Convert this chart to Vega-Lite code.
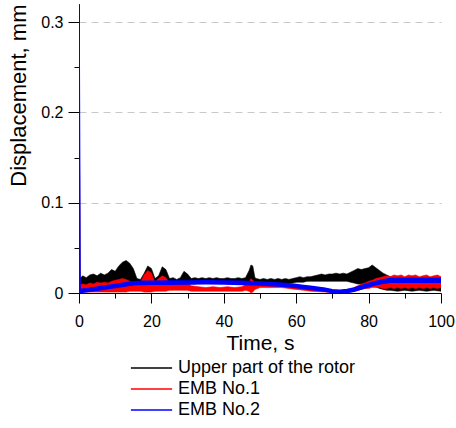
{
  "$schema": "https://vega.github.io/schema/vega-lite/v6.json",
  "width": 362,
  "height": 289,
  "autosize": "none",
  "padding": {"left": 79, "top": 4, "right": 15, "bottom": 135},
  "background": "white",
  "config": {
    "font": "Liberation Sans",
    "view": {"stroke": null},
    "axis": {"labelFont": "Liberation Sans", "titleFont": "Liberation Sans", "labelColor": "black", "titleColor": "black", "titleFontWeight": "normal", "domainColor": "black", "tickColor": "black"}
  },
  "data": {"values": [
    {"t": 0, "s": "Upper part of the rotor", "lo": 0, "hi": 0.25},
    {"t": 0.3, "s": "Upper part of the rotor", "lo": 0.005, "hi": 0.016},
    {"t": 1, "s": "Upper part of the rotor", "lo": 0.005, "hi": 0.019},
    {"t": 2, "s": "Upper part of the rotor", "lo": 0.005, "hi": 0.017},
    {"t": 3, "s": "Upper part of the rotor", "lo": 0.005, "hi": 0.020},
    {"t": 4, "s": "Upper part of the rotor", "lo": 0.005, "hi": 0.021},
    {"t": 5, "s": "Upper part of the rotor", "lo": 0.005, "hi": 0.019},
    {"t": 6, "s": "Upper part of the rotor", "lo": 0.005, "hi": 0.022},
    {"t": 7, "s": "Upper part of the rotor", "lo": 0.005, "hi": 0.020},
    {"t": 8, "s": "Upper part of the rotor", "lo": 0.005, "hi": 0.022},
    {"t": 9, "s": "Upper part of the rotor", "lo": 0.005, "hi": 0.026},
    {"t": 10, "s": "Upper part of the rotor", "lo": 0.005, "hi": 0.024},
    {"t": 11, "s": "Upper part of the rotor", "lo": 0.006, "hi": 0.030},
    {"t": 12, "s": "Upper part of the rotor", "lo": 0.006, "hi": 0.034},
    {"t": 13, "s": "Upper part of the rotor", "lo": 0.007, "hi": 0.036},
    {"t": 14, "s": "Upper part of the rotor", "lo": 0.007, "hi": 0.033},
    {"t": 15, "s": "Upper part of the rotor", "lo": 0.008, "hi": 0.027},
    {"t": 16, "s": "Upper part of the rotor", "lo": 0.009, "hi": 0.016},
    {"t": 17, "s": "Upper part of the rotor", "lo": 0.009, "hi": 0.015},
    {"t": 18, "s": "Upper part of the rotor", "lo": 0.009, "hi": 0.022},
    {"t": 19, "s": "Upper part of the rotor", "lo": 0.009, "hi": 0.030},
    {"t": 20, "s": "Upper part of the rotor", "lo": 0.009, "hi": 0.027},
    {"t": 21, "s": "Upper part of the rotor", "lo": 0.009, "hi": 0.016},
    {"t": 22, "s": "Upper part of the rotor", "lo": 0.009, "hi": 0.019},
    {"t": 23, "s": "Upper part of the rotor", "lo": 0.009, "hi": 0.029},
    {"t": 24, "s": "Upper part of the rotor", "lo": 0.009, "hi": 0.026},
    {"t": 25, "s": "Upper part of the rotor", "lo": 0.009, "hi": 0.016},
    {"t": 26, "s": "Upper part of the rotor", "lo": 0.009, "hi": 0.017},
    {"t": 27, "s": "Upper part of the rotor", "lo": 0.009, "hi": 0.015},
    {"t": 28, "s": "Upper part of the rotor", "lo": 0.009, "hi": 0.017},
    {"t": 29, "s": "Upper part of the rotor", "lo": 0.010, "hi": 0.024},
    {"t": 30, "s": "Upper part of the rotor", "lo": 0.010, "hi": 0.021},
    {"t": 31, "s": "Upper part of the rotor", "lo": 0.010, "hi": 0.016},
    {"t": 32, "s": "Upper part of the rotor", "lo": 0.010, "hi": 0.017},
    {"t": 33, "s": "Upper part of the rotor", "lo": 0.011, "hi": 0.016},
    {"t": 34, "s": "Upper part of the rotor", "lo": 0.011, "hi": 0.017},
    {"t": 35, "s": "Upper part of the rotor", "lo": 0.011, "hi": 0.016},
    {"t": 36, "s": "Upper part of the rotor", "lo": 0.011, "hi": 0.017},
    {"t": 37, "s": "Upper part of the rotor", "lo": 0.011, "hi": 0.016},
    {"t": 38, "s": "Upper part of the rotor", "lo": 0.011, "hi": 0.017},
    {"t": 39, "s": "Upper part of the rotor", "lo": 0.011, "hi": 0.016},
    {"t": 40, "s": "Upper part of the rotor", "lo": 0.011, "hi": 0.016},
    {"t": 41, "s": "Upper part of the rotor", "lo": 0.011, "hi": 0.017},
    {"t": 42, "s": "Upper part of the rotor", "lo": 0.011, "hi": 0.016},
    {"t": 43, "s": "Upper part of the rotor", "lo": 0.011, "hi": 0.016},
    {"t": 44, "s": "Upper part of the rotor", "lo": 0.011, "hi": 0.017},
    {"t": 45, "s": "Upper part of the rotor", "lo": 0.011, "hi": 0.016},
    {"t": 46, "s": "Upper part of the rotor", "lo": 0.011, "hi": 0.017},
    {"t": 47, "s": "Upper part of the rotor", "lo": 0.009, "hi": 0.025},
    {"t": 47.5, "s": "Upper part of the rotor", "lo": 0.005, "hi": 0.031},
    {"t": 48, "s": "Upper part of the rotor", "lo": 0.004, "hi": 0.030},
    {"t": 48.6, "s": "Upper part of the rotor", "lo": 0.010, "hi": 0.017},
    {"t": 49, "s": "Upper part of the rotor", "lo": 0.011, "hi": 0.016},
    {"t": 50, "s": "Upper part of the rotor", "lo": 0.011, "hi": 0.015},
    {"t": 51, "s": "Upper part of the rotor", "lo": 0.011, "hi": 0.016},
    {"t": 52, "s": "Upper part of the rotor", "lo": 0.011, "hi": 0.015},
    {"t": 53, "s": "Upper part of the rotor", "lo": 0.011, "hi": 0.016},
    {"t": 54, "s": "Upper part of the rotor", "lo": 0.011, "hi": 0.015},
    {"t": 55, "s": "Upper part of the rotor", "lo": 0.011, "hi": 0.016},
    {"t": 56, "s": "Upper part of the rotor", "lo": 0.011, "hi": 0.015},
    {"t": 57, "s": "Upper part of the rotor", "lo": 0.011, "hi": 0.016},
    {"t": 58, "s": "Upper part of the rotor", "lo": 0.011, "hi": 0.015},
    {"t": 59, "s": "Upper part of the rotor", "lo": 0.011, "hi": 0.016},
    {"t": 60, "s": "Upper part of the rotor", "lo": 0.012, "hi": 0.017},
    {"t": 61, "s": "Upper part of the rotor", "lo": 0.012, "hi": 0.018},
    {"t": 62, "s": "Upper part of the rotor", "lo": 0.012, "hi": 0.017},
    {"t": 63, "s": "Upper part of the rotor", "lo": 0.013, "hi": 0.018},
    {"t": 64, "s": "Upper part of the rotor", "lo": 0.013, "hi": 0.018},
    {"t": 65, "s": "Upper part of the rotor", "lo": 0.013, "hi": 0.019},
    {"t": 66, "s": "Upper part of the rotor", "lo": 0.013, "hi": 0.020},
    {"t": 67, "s": "Upper part of the rotor", "lo": 0.013, "hi": 0.021},
    {"t": 68, "s": "Upper part of the rotor", "lo": 0.013, "hi": 0.020},
    {"t": 69, "s": "Upper part of the rotor", "lo": 0.013, "hi": 0.021},
    {"t": 70, "s": "Upper part of the rotor", "lo": 0.013, "hi": 0.021},
    {"t": 71, "s": "Upper part of the rotor", "lo": 0.013, "hi": 0.022},
    {"t": 72, "s": "Upper part of the rotor", "lo": 0.013, "hi": 0.021},
    {"t": 73, "s": "Upper part of the rotor", "lo": 0.013, "hi": 0.022},
    {"t": 74, "s": "Upper part of the rotor", "lo": 0.013, "hi": 0.021},
    {"t": 75, "s": "Upper part of the rotor", "lo": 0.012, "hi": 0.023},
    {"t": 76, "s": "Upper part of the rotor", "lo": 0.011, "hi": 0.025},
    {"t": 77, "s": "Upper part of the rotor", "lo": 0.010, "hi": 0.027},
    {"t": 78, "s": "Upper part of the rotor", "lo": 0.010, "hi": 0.026},
    {"t": 79, "s": "Upper part of the rotor", "lo": 0.009, "hi": 0.027},
    {"t": 80, "s": "Upper part of the rotor", "lo": 0.009, "hi": 0.028},
    {"t": 81, "s": "Upper part of the rotor", "lo": 0.008, "hi": 0.031},
    {"t": 82, "s": "Upper part of the rotor", "lo": 0.007, "hi": 0.028},
    {"t": 83, "s": "Upper part of the rotor", "lo": 0.005, "hi": 0.025},
    {"t": 84, "s": "Upper part of the rotor", "lo": 0.004, "hi": 0.022},
    {"t": 85, "s": "Upper part of the rotor", "lo": 0.003, "hi": 0.020},
    {"t": 86, "s": "Upper part of the rotor", "lo": 0.003, "hi": 0.018},
    {"t": 88, "s": "Upper part of the rotor", "lo": 0.002, "hi": 0.017},
    {"t": 90, "s": "Upper part of the rotor", "lo": 0.003, "hi": 0.016},
    {"t": 92, "s": "Upper part of the rotor", "lo": 0.002, "hi": 0.017},
    {"t": 94, "s": "Upper part of the rotor", "lo": 0.003, "hi": 0.016},
    {"t": 96, "s": "Upper part of the rotor", "lo": 0.002, "hi": 0.017},
    {"t": 98, "s": "Upper part of the rotor", "lo": 0.003, "hi": 0.016},
    {"t": 100, "s": "Upper part of the rotor", "lo": 0.002, "hi": 0.017},

    {"t": 0, "s": "EMB No.1", "lo": 0, "hi": 0.28},
    {"t": 0.3, "s": "EMB No.1", "lo": 0.001, "hi": 0.009},
    {"t": 1, "s": "EMB No.1", "lo": 0.001, "hi": 0.010},
    {"t": 2, "s": "EMB No.1", "lo": 0.001, "hi": 0.009},
    {"t": 3, "s": "EMB No.1", "lo": 0.001, "hi": 0.011},
    {"t": 4, "s": "EMB No.1", "lo": 0.001, "hi": 0.010},
    {"t": 5, "s": "EMB No.1", "lo": 0.001, "hi": 0.012},
    {"t": 6, "s": "EMB No.1", "lo": 0.001, "hi": 0.011},
    {"t": 7, "s": "EMB No.1", "lo": 0.001, "hi": 0.012},
    {"t": 8, "s": "EMB No.1", "lo": 0.001, "hi": 0.011},
    {"t": 9, "s": "EMB No.1", "lo": 0.001, "hi": 0.013},
    {"t": 10, "s": "EMB No.1", "lo": 0.001, "hi": 0.014},
    {"t": 11, "s": "EMB No.1", "lo": 0.001, "hi": 0.015},
    {"t": 12, "s": "EMB No.1", "lo": 0.001, "hi": 0.016},
    {"t": 13, "s": "EMB No.1", "lo": 0.001, "hi": 0.015},
    {"t": 14, "s": "EMB No.1", "lo": 0.002, "hi": 0.013},
    {"t": 15, "s": "EMB No.1", "lo": 0.002, "hi": 0.011},
    {"t": 16, "s": "EMB No.1", "lo": 0.002, "hi": 0.011},
    {"t": 17, "s": "EMB No.1", "lo": 0.002, "hi": 0.012},
    {"t": 18, "s": "EMB No.1", "lo": 0.001, "hi": 0.020},
    {"t": 19, "s": "EMB No.1", "lo": 0.001, "hi": 0.025},
    {"t": 20, "s": "EMB No.1", "lo": 0.001, "hi": 0.022},
    {"t": 21, "s": "EMB No.1", "lo": 0.002, "hi": 0.012},
    {"t": 22, "s": "EMB No.1", "lo": 0.002, "hi": 0.016},
    {"t": 23, "s": "EMB No.1", "lo": 0.002, "hi": 0.019},
    {"t": 24, "s": "EMB No.1", "lo": 0.002, "hi": 0.017},
    {"t": 25, "s": "EMB No.1", "lo": 0.003, "hi": 0.011},
    {"t": 26, "s": "EMB No.1", "lo": 0.003, "hi": 0.012},
    {"t": 27, "s": "EMB No.1", "lo": 0.003, "hi": 0.011},
    {"t": 28, "s": "EMB No.1", "lo": 0.003, "hi": 0.012},
    {"t": 29, "s": "EMB No.1", "lo": 0.003, "hi": 0.013},
    {"t": 30, "s": "EMB No.1", "lo": 0.003, "hi": 0.011},
    {"t": 31, "s": "EMB No.1", "lo": 0.002, "hi": 0.008},
    {"t": 33, "s": "EMB No.1", "lo": 0.002, "hi": 0.007},
    {"t": 35, "s": "EMB No.1", "lo": 0.002, "hi": 0.006},
    {"t": 37, "s": "EMB No.1", "lo": 0.002, "hi": 0.007},
    {"t": 39, "s": "EMB No.1", "lo": 0.002, "hi": 0.006},
    {"t": 41, "s": "EMB No.1", "lo": 0.002, "hi": 0.007},
    {"t": 43, "s": "EMB No.1", "lo": 0.002, "hi": 0.006},
    {"t": 45, "s": "EMB No.1", "lo": 0.002, "hi": 0.007},
    {"t": 46, "s": "EMB No.1", "lo": 0.003, "hi": 0.009},
    {"t": 47, "s": "EMB No.1", "lo": 0.002, "hi": 0.012},
    {"t": 47.5, "s": "EMB No.1", "lo": 0.000, "hi": 0.016},
    {"t": 48, "s": "EMB No.1", "lo": 0.001, "hi": 0.014},
    {"t": 48.6, "s": "EMB No.1", "lo": 0.004, "hi": 0.010},
    {"t": 50, "s": "EMB No.1", "lo": 0.006, "hi": 0.010},
    {"t": 52, "s": "EMB No.1", "lo": 0.006, "hi": 0.010},
    {"t": 54, "s": "EMB No.1", "lo": 0.006, "hi": 0.010},
    {"t": 56, "s": "EMB No.1", "lo": 0.006, "hi": 0.0095},
    {"t": 57, "s": "EMB No.1", "lo": 0.0055, "hi": 0.009},
    {"t": 58, "s": "EMB No.1", "lo": 0.005, "hi": 0.0085},
    {"t": 59, "s": "EMB No.1", "lo": 0.0045, "hi": 0.008},
    {"t": 60, "s": "EMB No.1", "lo": 0.004, "hi": 0.0075},
    {"t": 62, "s": "EMB No.1", "lo": 0.003, "hi": 0.0065},
    {"t": 64, "s": "EMB No.1", "lo": 0.002, "hi": 0.005},
    {"t": 66, "s": "EMB No.1", "lo": 0.0015, "hi": 0.0045},
    {"t": 68, "s": "EMB No.1", "lo": 0.001, "hi": 0.0035},
    {"t": 70, "s": "EMB No.1", "lo": 0.0005, "hi": 0.003},
    {"t": 72, "s": "EMB No.1", "lo": 0.0005, "hi": 0.0025},
    {"t": 74, "s": "EMB No.1", "lo": 0.0005, "hi": 0.003},
    {"t": 75, "s": "EMB No.1", "lo": 0.001, "hi": 0.004},
    {"t": 76, "s": "EMB No.1", "lo": 0.002, "hi": 0.006},
    {"t": 77, "s": "EMB No.1", "lo": 0.003, "hi": 0.008},
    {"t": 78, "s": "EMB No.1", "lo": 0.004, "hi": 0.010},
    {"t": 79, "s": "EMB No.1", "lo": 0.005, "hi": 0.011},
    {"t": 80, "s": "EMB No.1", "lo": 0.005, "hi": 0.013},
    {"t": 81, "s": "EMB No.1", "lo": 0.006, "hi": 0.014},
    {"t": 82, "s": "EMB No.1", "lo": 0.006, "hi": 0.016},
    {"t": 83, "s": "EMB No.1", "lo": 0.006, "hi": 0.017},
    {"t": 84, "s": "EMB No.1", "lo": 0.005, "hi": 0.018},
    {"t": 85, "s": "EMB No.1", "lo": 0.005, "hi": 0.019},
    {"t": 86, "s": "EMB No.1", "lo": 0.006, "hi": 0.018},
    {"t": 87, "s": "EMB No.1", "lo": 0.005, "hi": 0.020},
    {"t": 88, "s": "EMB No.1", "lo": 0.006, "hi": 0.019},
    {"t": 89, "s": "EMB No.1", "lo": 0.005, "hi": 0.020},
    {"t": 90, "s": "EMB No.1", "lo": 0.006, "hi": 0.018},
    {"t": 91, "s": "EMB No.1", "lo": 0.005, "hi": 0.020},
    {"t": 92, "s": "EMB No.1", "lo": 0.006, "hi": 0.019},
    {"t": 93, "s": "EMB No.1", "lo": 0.005, "hi": 0.020},
    {"t": 94, "s": "EMB No.1", "lo": 0.006, "hi": 0.018},
    {"t": 95, "s": "EMB No.1", "lo": 0.005, "hi": 0.019},
    {"t": 96, "s": "EMB No.1", "lo": 0.006, "hi": 0.020},
    {"t": 97, "s": "EMB No.1", "lo": 0.005, "hi": 0.018},
    {"t": 98, "s": "EMB No.1", "lo": 0.006, "hi": 0.019},
    {"t": 99, "s": "EMB No.1", "lo": 0.005, "hi": 0.020},
    {"t": 100, "s": "EMB No.1", "lo": 0.006, "hi": 0.018},

    {"t": 0, "s": "EMB No.2", "lo": 0, "hi": 0.33},
    {"t": 0.3, "s": "EMB No.2", "lo": 0.0005, "hi": 0.004},
    {"t": 2, "s": "EMB No.2", "lo": 0.0013, "hi": 0.0047},
    {"t": 4, "s": "EMB No.2", "lo": 0.0025, "hi": 0.0059},
    {"t": 6, "s": "EMB No.2", "lo": 0.0037, "hi": 0.0071},
    {"t": 8, "s": "EMB No.2", "lo": 0.0049, "hi": 0.0083},
    {"t": 10, "s": "EMB No.2", "lo": 0.0061, "hi": 0.0095},
    {"t": 12, "s": "EMB No.2", "lo": 0.0073, "hi": 0.0107},
    {"t": 14, "s": "EMB No.2", "lo": 0.0085, "hi": 0.0119},
    {"t": 16, "s": "EMB No.2", "lo": 0.0093, "hi": 0.0127},
    {"t": 18, "s": "EMB No.2", "lo": 0.0095, "hi": 0.0129},
    {"t": 20, "s": "EMB No.2", "lo": 0.0097, "hi": 0.0131},
    {"t": 25, "s": "EMB No.2", "lo": 0.0098, "hi": 0.0132},
    {"t": 30, "s": "EMB No.2", "lo": 0.0100, "hi": 0.0134},
    {"t": 35, "s": "EMB No.2", "lo": 0.0102, "hi": 0.0136},
    {"t": 40, "s": "EMB No.2", "lo": 0.0100, "hi": 0.0134},
    {"t": 45, "s": "EMB No.2", "lo": 0.0095, "hi": 0.0129},
    {"t": 50, "s": "EMB No.2", "lo": 0.0088, "hi": 0.0122},
    {"t": 55, "s": "EMB No.2", "lo": 0.0078, "hi": 0.0112},
    {"t": 58, "s": "EMB No.2", "lo": 0.0068, "hi": 0.0102},
    {"t": 60, "s": "EMB No.2", "lo": 0.0060, "hi": 0.0094},
    {"t": 62, "s": "EMB No.2", "lo": 0.0050, "hi": 0.0084},
    {"t": 64, "s": "EMB No.2", "lo": 0.0040, "hi": 0.0074},
    {"t": 66, "s": "EMB No.2", "lo": 0.0030, "hi": 0.0064},
    {"t": 68, "s": "EMB No.2", "lo": 0.0020, "hi": 0.0054},
    {"t": 70, "s": "EMB No.2", "lo": 0.0005, "hi": 0.0035},
    {"t": 72, "s": "EMB No.2", "lo": 0.0000, "hi": 0.0030},
    {"t": 74, "s": "EMB No.2", "lo": 0.0005, "hi": 0.0038},
    {"t": 76, "s": "EMB No.2", "lo": 0.0020, "hi": 0.0055},
    {"t": 78, "s": "EMB No.2", "lo": 0.0045, "hi": 0.0080},
    {"t": 80, "s": "EMB No.2", "lo": 0.0070, "hi": 0.0105},
    {"t": 82, "s": "EMB No.2", "lo": 0.0090, "hi": 0.0128},
    {"t": 84, "s": "EMB No.2", "lo": 0.0108, "hi": 0.0148},
    {"t": 86, "s": "EMB No.2", "lo": 0.0118, "hi": 0.0160},
    {"t": 88, "s": "EMB No.2", "lo": 0.0120, "hi": 0.0162},
    {"t": 90, "s": "EMB No.2", "lo": 0.0118, "hi": 0.0160},
    {"t": 92, "s": "EMB No.2", "lo": 0.0121, "hi": 0.0163},
    {"t": 94, "s": "EMB No.2", "lo": 0.0119, "hi": 0.0161},
    {"t": 96, "s": "EMB No.2", "lo": 0.0120, "hi": 0.0162},
    {"t": 98, "s": "EMB No.2", "lo": 0.0118, "hi": 0.0160},
    {"t": 100, "s": "EMB No.2", "lo": 0.0120, "hi": 0.0162}
  ]},
  "layer": [
    {
      "encoding": {
        "x": {"field": "t", "type": "quantitative", "scale": {"domain": [0, 100], "nice": false},
          "axis": {"orient": "bottom", "values": [0, 20, 40, 60, 80, 100], "title": "Time, s", "titleFontSize": 21, "titlePadding": 3, "labelFontSize": 16, "labelPadding": 10, "tickSize": 10, "grid": false, "labelFlush": false, "format": "d"}},
        "y": {"field": "lo", "type": "quantitative", "stack": null, "scale": {"domain": [0, 0.32], "nice": false},
          "axis": {"orient": "left", "values": [0, 0.1, 0.2, 0.3], "format": ".1~f", "title": "Displacement, mm", "titleFontSize": 22, "titleAnchor": "end", "titlePadding": 10, "labelFontSize": 16, "labelPadding": 5, "tickSize": 11, "grid": true, "gridDash": [7, 5], "gridColor": "#c8c8c8", "gridOpacity": {"condition": {"test": "datum.value === 0", "value": 0}, "value": 1}}},
        "y2": {"field": "hi"},
        "fill": {"field": "s", "type": "nominal",
          "scale": {"domain": ["Upper part of the rotor", "EMB No.1", "EMB No.2"], "range": ["#000000", "#ff0000", "#0000ff"]},
          "legend": {"orient": "none", "legendX": 51, "legendY": 355, "title": null, "symbolType": "stroke", "symbolSize": 1700, "symbolStrokeWidth": 1.5, "labelFontSize": 18, "labelFont": "Liberation Sans", "labelColor": "black", "labelLimit": 400, "clipHeight": 18, "rowPadding": 3, "labelOffset": 5}},
        "stroke": {"field": "s", "type": "nominal",
          "scale": {"domain": ["Upper part of the rotor", "EMB No.1", "EMB No.2"], "range": ["#000000", "#ff0000", "#0000ff"]},
          "legend": {"orient": "none", "legendX": 51, "legendY": 355, "title": null, "symbolType": "stroke", "symbolSize": 1700, "symbolStrokeWidth": 1.5, "labelFontSize": 18, "labelFont": "Liberation Sans", "labelColor": "black", "labelLimit": 400, "clipHeight": 18, "rowPadding": 3, "labelOffset": 5}}
      },
      "layer": [
        {"transform": [{"filter": "datum.s === 'Upper part of the rotor'"}], "mark": {"type": "area", "strokeWidth": 0.6, "clip": true}},
        {"transform": [{"filter": "datum.s === 'EMB No.1'"}], "mark": {"type": "area", "strokeWidth": 0.6, "clip": true}},
        {"transform": [{"filter": "datum.s === 'EMB No.2'"}], "mark": {"type": "area", "strokeWidth": 1.5, "clip": true}}
      ]
    },
    {
      "mark": {"type": "point", "opacity": 0},
      "encoding": {
        "x": {"field": "t", "type": "quantitative", "scale": {"domain": [0, 100], "nice": false}, "axis": {"orient": "bottom", "values": [10, 30, 50, 70, 90], "labels": false, "domain": false, "grid": false, "title": null, "tickSize": 5}},
        "y": {"field": "lo", "type": "quantitative", "scale": {"domain": [0, 0.32], "nice": false}, "axis": {"orient": "left", "values": [0.05, 0.15, 0.25], "labels": false, "domain": false, "grid": false, "title": null, "tickSize": 5}}
      }
    }
  ],
  "resolve": {"axis": {"x": "independent", "y": "independent"}}
}
